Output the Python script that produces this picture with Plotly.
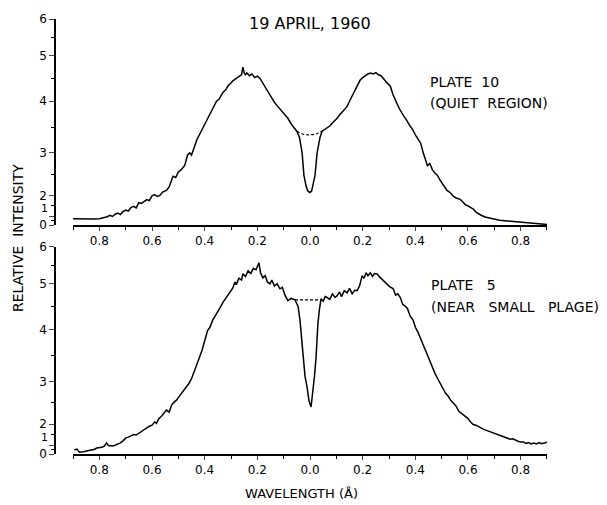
import numpy as np
import plotly.graph_objects as go

# wavelength from line centre (A), violet side negative; intensity as read on the printed scale
wl_p10 = [-0.90, -0.88, -0.86, -0.84, -0.82, -0.80, -0.78, -0.77, -0.76, -0.75, -0.74, -0.73,
          -0.72, -0.71, -0.70, -0.69, -0.68, -0.67, -0.66, -0.65, -0.64, -0.63, -0.62, -0.61,
          -0.60, -0.59, -0.58, -0.57, -0.56, -0.545, -0.535, -0.52, -0.51, -0.50, -0.49,
          -0.476, -0.465, -0.457, -0.45, -0.44, -0.43, -0.42, -0.41, -0.40, -0.39, -0.38,
          -0.37, -0.355, -0.345, -0.33, -0.32, -0.31, -0.30, -0.293, -0.28, -0.27, -0.26,
          -0.255, -0.25, -0.245, -0.24, -0.23, -0.22, -0.21, -0.20, -0.19, -0.18, -0.17,
          -0.164, -0.155, -0.145, -0.135, -0.126, -0.115, -0.105, -0.095, -0.084, -0.07,
          -0.06, -0.05, -0.04, -0.03, -0.023, -0.015, -0.008, 0.0, 0.006, 0.012, 0.019,
          0.027, 0.038, 0.046, 0.055, 0.065, 0.075, 0.085, 0.095, 0.103, 0.11, 0.12, 0.13,
          0.141, 0.15, 0.164, 0.175, 0.19, 0.20, 0.21, 0.22, 0.23, 0.24, 0.25, 0.26, 0.27,
          0.278, 0.29, 0.305, 0.315, 0.33, 0.34, 0.355, 0.365, 0.38, 0.39, 0.40, 0.41, 0.42,
          0.43, 0.44, 0.446, 0.455, 0.465, 0.475, 0.484, 0.495, 0.505, 0.52, 0.53, 0.545,
          0.555, 0.57, 0.58, 0.59, 0.60, 0.61, 0.62, 0.63, 0.64, 0.65, 0.665, 0.68, 0.70,
          0.72, 0.74, 0.76, 0.78, 0.80, 0.82, 0.84, 0.86, 0.88, 0.90]
int_p10 = [0.72, 0.70, 0.72, 0.70, 0.68, 0.72, 0.85, 0.95, 1.05, 0.98, 1.10, 1.15,
           1.08, 1.22, 1.30, 1.25, 1.42, 1.48, 1.40, 1.65, 1.62, 1.72, 1.80, 1.75,
           1.98, 2.02, 1.95, 2.00, 2.08, 2.12, 2.20, 2.45, 2.42, 2.55, 2.60,
           2.70, 2.95, 3.00, 2.95, 3.10, 3.25, 3.35, 3.45, 3.55, 3.62, 3.75,
           3.82, 4.00, 4.05, 4.20, 4.25, 4.35, 4.40, 4.45, 4.50, 4.55, 4.58,
           4.75, 4.62, 4.58, 4.62, 4.56, 4.60, 4.52, 4.55, 4.50, 4.40, 4.32,
           4.25, 4.15, 4.05, 3.98, 3.92, 3.85, 3.80, 3.72, 3.67, 3.55,
           3.48, 3.42, 3.30, 3.00, 2.47, 2.22, 2.10, 2.07, 2.10, 2.25, 2.47,
           3.00, 3.30, 3.42, 3.45, 3.48, 3.52, 3.58, 3.62, 3.67, 3.72, 3.78, 3.82,
           3.90, 4.00, 4.17, 4.30, 4.46, 4.52, 4.56, 4.60, 4.62, 4.60, 4.63, 4.58, 4.56,
           4.50, 4.42, 4.33, 4.15, 3.96, 3.85, 3.72, 3.65, 3.52, 3.45, 3.35, 3.28, 3.19,
           3.00, 2.80, 2.70, 2.75, 2.60, 2.52, 2.47, 2.35, 2.25, 2.12, 2.08, 1.95,
           1.88, 1.81, 1.70, 1.55, 1.50, 1.43, 1.35, 1.20, 1.12, 1.05, 0.92, 0.80, 0.70,
           0.55, 0.50, 0.45, 0.42, 0.35, 0.30, 0.26, 0.20, 0.15, 0.08]
wl_p10_cont = [-0.05, -0.025, 0.0, 0.025, 0.046]
int_p10_cont = [3.42, 3.36, 3.35, 3.37, 3.42]

wl_p5 = [-0.895, -0.885, -0.876, -0.86, -0.84, -0.82, -0.81, -0.79, -0.78, -0.773, -0.765,
         -0.75, -0.74, -0.72, -0.71, -0.70, -0.69, -0.68, -0.67, -0.66, -0.65, -0.64, -0.63,
         -0.62, -0.61, -0.60, -0.59, -0.583, -0.575, -0.565, -0.555, -0.545, -0.535, -0.525,
         -0.515, -0.507, -0.50, -0.49, -0.48, -0.469, -0.46, -0.45, -0.44, -0.43, -0.42,
         -0.41, -0.40, -0.389, -0.38, -0.37, -0.36, -0.35, -0.343, -0.33, -0.32, -0.31,
         -0.30, -0.293, -0.285, -0.28, -0.27, -0.26, -0.255, -0.245, -0.235, -0.225, -0.215,
         -0.205, -0.194, -0.188, -0.179, -0.17, -0.162, -0.152, -0.145, -0.135, -0.125,
         -0.114, -0.105, -0.095, -0.084, -0.072, -0.057, -0.045, -0.038, -0.032, -0.027,
         -0.019, -0.011, -0.004, 0.004, 0.008, 0.011, 0.017, 0.023, 0.030, 0.036, 0.042,
         0.05, 0.058, 0.065, 0.075, 0.085, 0.095, 0.103, 0.112, 0.12, 0.13, 0.141, 0.15,
         0.16, 0.17, 0.179, 0.188, 0.198, 0.205, 0.213, 0.22, 0.229, 0.237, 0.245, 0.255,
         0.265, 0.278, 0.29, 0.30, 0.316, 0.325, 0.333, 0.343, 0.352, 0.36, 0.37, 0.38,
         0.392, 0.40, 0.41, 0.419, 0.43, 0.44, 0.45, 0.457, 0.465, 0.475, 0.485, 0.495,
         0.505, 0.515, 0.525, 0.535, 0.545, 0.555, 0.565, 0.575, 0.585, 0.598, 0.61, 0.62,
         0.63, 0.64, 0.648, 0.66, 0.67, 0.68, 0.69, 0.697, 0.71, 0.72, 0.73, 0.74, 0.75,
         0.76, 0.77, 0.78, 0.79, 0.80, 0.81, 0.82, 0.83, 0.84, 0.85, 0.86, 0.87, 0.88,
         0.89, 0.903]
int_p5 = [0.45, 0.55, 0.20, 0.25, 0.40, 0.50, 0.67, 0.75, 0.90, 1.10, 0.95,
          0.90, 0.98, 1.10, 1.20, 1.33, 1.38, 1.45, 1.50, 1.48, 1.57, 1.65, 1.72,
          1.81, 1.90, 1.95, 2.05, 2.02, 2.12, 2.18, 2.25, 2.33, 2.28, 2.45,
          2.52, 2.56, 2.62, 2.70, 2.78, 2.86, 2.95, 3.05, 3.20, 3.35, 3.46,
          3.60, 3.80, 3.98, 4.05, 4.20, 4.30, 4.38, 4.46, 4.60, 4.68, 4.75,
          4.85, 4.91, 5.05, 4.98, 5.15, 5.10, 5.27, 5.20, 5.35, 5.28, 5.42,
          5.38, 5.57, 5.30, 5.16, 5.22, 5.05, 5.00, 5.10, 4.95, 5.00,
          4.89, 4.92, 4.75, 4.63, 4.68, 4.65, 4.50, 4.20, 3.80, 3.46,
          3.10, 2.86, 2.55, 2.40, 2.60, 2.86, 3.10, 3.46, 4.13, 4.45, 4.67,
          4.62, 4.72, 4.70, 4.66, 4.78, 4.70, 4.74, 4.82, 4.72, 4.85, 4.80, 4.90,
          4.78, 4.86, 4.85, 4.95, 5.22, 5.15, 5.30, 5.22, 5.30, 5.20, 5.28, 5.27,
          5.18, 5.08, 5.00, 4.95, 4.89, 4.75, 4.78, 4.70, 4.55, 4.52, 4.46, 4.30,
          4.20, 4.05, 3.95, 3.85, 3.70, 3.58, 3.45, 3.35, 3.25, 3.15, 3.05, 2.95,
          2.85, 2.72, 2.65, 2.55, 2.49, 2.42, 2.30, 2.25, 2.20, 2.14, 2.05, 1.98,
          1.95, 1.88, 1.81, 1.75, 1.70, 1.65, 1.60, 1.57, 1.50, 1.45, 1.42, 1.36, 1.33,
          1.28, 1.30, 1.22, 1.18, 1.14, 1.15, 1.08, 1.12, 1.05, 1.10, 1.05, 1.12, 1.06,
          1.10, 1.14]
wl_p5_cont = [-0.057, 0.0, 0.042]
int_p5_cont = [4.65, 4.65, 4.65]

# printed (non-linear) intensity scale: value -> height on the plate scale
cal_intensity = [0, 1, 2, 3, 4, 5, 6]
cal_height = [0, 9, 30, 73, 125, 171, 208]


def to_scale(v):
    return np.interp(v, cal_intensity, cal_height)


x_major = [-0.8, -0.6, -0.4, -0.2, 0.0, 0.2, 0.4, 0.6, 0.8]
x_labels = ['0.8', '0.6', '0.4', '0.2', '0.0', '0.2', '0.4', '0.6', '0.8']
x_minor = [-0.9, -0.7, -0.5, -0.3, -0.1, 0.1, 0.3, 0.5, 0.7, 0.9]
y_labels = ['0', '', '2', '3', '4', '5', '6']
y_minor = [0.5, 1.5, 2.5, 3.5, 4.5, 5.5]

font = dict(family='DejaVu Sans', size=12, color='black')
line = dict(color='black', width=1.5)
dash = dict(color='black', width=1.2, dash='3px,2px')

fig = go.Figure()
fig.add_trace(go.Scatter(x=wl_p10, y=to_scale(int_p10), mode='lines', line=line,
                         xaxis='x', yaxis='y'))
fig.add_trace(go.Scatter(x=wl_p10_cont, y=to_scale(int_p10_cont), mode='lines',
                         line=dash, line_shape='spline', xaxis='x', yaxis='y'))
fig.add_trace(go.Scatter(x=wl_p5, y=to_scale(int_p5), mode='lines', line=line,
                         xaxis='x2', yaxis='y2'))
fig.add_trace(go.Scatter(x=wl_p5_cont, y=to_scale(int_p5_cont), mode='lines',
                         line=dash, xaxis='x2', yaxis='y2'))

xax = dict(domain=[0.0366, 1], range=[-0.9, 0.9], tickmode='array', tickvals=x_major,
           ticktext=x_labels, ticks='outside', ticklen=4, tickwidth=1.3,
           showline=True, linecolor='black', linewidth=1.6, showgrid=False,
           zeroline=False, tickfont=font,
           minor=dict(tickvals=x_minor, ticks='outside', ticklen=3, tickwidth=1.1,
                      tickcolor='black', showgrid=False))
yax = dict(range=[0, 208], tickmode='array', tickvals=to_scale(cal_intensity),
           ticktext=y_labels, ticks='outside', ticklen=5, tickwidth=1.3,
           showline=True, linecolor='black', linewidth=1.6, showgrid=False,
           zeroline=False, anchor='free', position=0, tickfont=font,
           minor=dict(tickvals=to_scale(y_minor), ticks='outside', ticklen=3,
                      tickwidth=1, tickcolor='black', showgrid=False))

fig.update_layout(
    width=607, height=505,
    margin=dict(l=55, r=60, t=15, b=51),
    paper_bgcolor='white', plot_bgcolor='white',
    showlegend=False,
    xaxis=dict(xax, anchor='y'),
    yaxis=dict(yax, domain=[0.526, 1]),
    xaxis2=dict(xax, anchor='y2'),
    yaxis2=dict(yax, domain=[0, 0.476]),
)

sp2 = '\u00a0\u00a0'
sp3 = '\u00a0\u00a0\u00a0'
ann = [
    ('19 APRIL, 1960', 0.518, 0.989, 'center', 0, 16),
    ('PLATE' + sp2 + '10', 0.758, 0.856, 'left', 0, 14),
    ('(QUIET' + sp2 + 'REGION)', 0.758, 0.806, 'left', 0, 14),
    ('PLATE' + sp3 + '5', 0.760, 0.3895, 'left', 0, 14),
    ('(NEAR' + sp3 + 'SMALL' + sp3 + 'PLAGE)', 0.760, 0.339, 'left', 0, 14),
    ('RELATIVE' + sp2 + 'INTENSITY', -0.0752, 0.4966, 'center', -90, 14),
    ('WAVELENGTH (Å)', 0.502, -0.091, 'center', 0, 13),
    ('1', -0.0102, 0.5640, 'right', 0, 11),
    ('1', -0.0102, 0.0387, 'right', 0, 11),
]
for text, x, y, xa, ang, size in ann:
    fig.add_annotation(text=text, x=x, y=y, xref='paper', yref='paper', xanchor=xa,
                       yanchor='middle', textangle=ang, showarrow=False,
                       font=dict(family='DejaVu Sans', size=size, color='black'))

fig.write_html("out.html", config={'displayModeBar': False},
               post_script="document.body.style.margin = '0';")
